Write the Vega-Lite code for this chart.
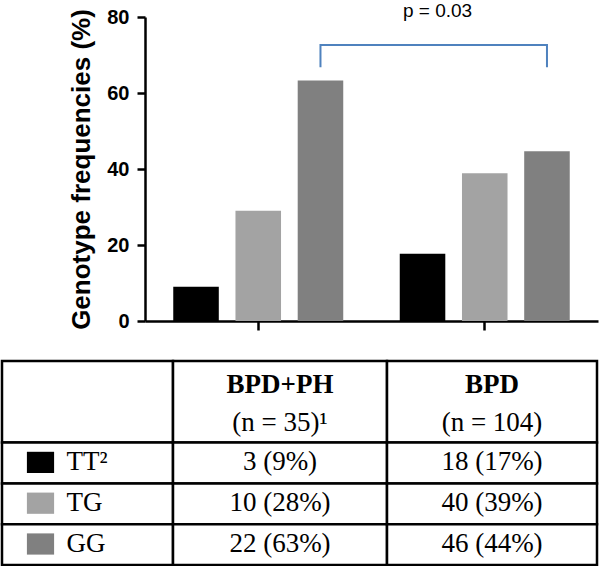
{
  "$schema": "https://vega.github.io/schema/vega-lite/v6.json",
  "padding": {"left": 0, "top": 2, "right": 0, "bottom": 0},
  "config": {"view": {"stroke": null}, "font": "Liberation Sans"},
  "align": "none",
  "spacing": 27,
  "vconcat": [
    {
      "spacing": 0,
      "hconcat": [
        {"width": 66, "height": 304, "data": {"values": []}, "mark": "point"},
        {
          "width": 453,
          "height": 304,
          "layer": [
            {
              "data": {"values": [
                {"group": "BPD+PH", "genotype": "TT", "pct": 9},
                {"group": "BPD+PH", "genotype": "TG", "pct": 29},
                {"group": "BPD+PH", "genotype": "GG", "pct": 63.3},
                {"group": "BPD", "genotype": "TT", "pct": 17.7},
                {"group": "BPD", "genotype": "TG", "pct": 38.9},
                {"group": "BPD", "genotype": "GG", "pct": 44.7}
              ]},
              "mark": {"type": "bar"},
              "encoding": {
                "x": {"field": "group", "type": "nominal",
                  "scale": {"domain": ["BPD+PH", "BPD"], "paddingInner": 0.2, "paddingOuter": 0.1},
                  "axis": {"title": null, "labels": false, "tickSize": 9, "tickWidth": 2.5, "tickColor": "black", "domainColor": "black", "domainWidth": 2.5}},
                "xOffset": {"field": "genotype", "type": "nominal",
                  "scale": {"domain": ["TT", "TG", "GG"], "paddingInner": 0.268, "paddingOuter": 0.09}},
                "y": {"field": "pct", "type": "quantitative",
                  "scale": {"domain": [0, 80], "nice": false},
                  "axis": {"values": [0, 20, 40, 60, 80], "grid": false, "title": "Genotype frequencies (%)",
                    "domainColor": "black", "domainWidth": 2.5, "tickColor": "black", "tickWidth": 2.5, "tickSize": 8,
                    "labelFont": "Liberation Sans", "labelFontSize": 20, "labelFontWeight": "bold", "labelColor": "black", "labelPadding": 8, "labelFlush": false,
                    "titleFont": "Liberation Sans", "titleFontSize": 26, "titleFontWeight": "bold", "titleColor": "black", "titlePadding": 12}},
                "color": {"field": "genotype", "type": "nominal",
                  "scale": {"domain": ["TT", "TG", "GG"], "range": ["#000000", "#a3a3a3", "#808080"]}, "legend": null}
              }
            },
            {
              "data": {"values": [
                {"group": "BPD+PH", "genotype": "GG", "y": 66.8, "order": 1},
                {"group": "BPD+PH", "genotype": "GG", "y": 72.6, "order": 2},
                {"group": "BPD", "genotype": "GG", "y": 72.6, "order": 3},
                {"group": "BPD", "genotype": "GG", "y": 66.8, "order": 4}
              ]},
              "mark": {"type": "line", "color": "#4f82be", "strokeWidth": 2},
              "encoding": {
                "x": {"field": "group", "type": "nominal"},
                "xOffset": {"field": "genotype", "type": "nominal"},
                "y": {"field": "y", "type": "quantitative"},
                "order": {"field": "order", "type": "quantitative"}
              }
            },
            {
              "data": {"values": [{"group": "BPD", "genotype": "TT", "y": 81.5, "label": "p = 0.03"}]},
              "mark": {"type": "text", "font": "Liberation Sans", "fontSize": 19, "color": "black", "dx": 15, "baseline": "middle"},
              "encoding": {
                "x": {"field": "group", "type": "nominal"},
                "xOffset": {"field": "genotype", "type": "nominal"},
                "y": {"field": "y", "type": "quantitative"},
                "text": {"field": "label"}
              }
            }
          ]
        }
      ]
    },
    {
      "spacing": 0,
      "bounds": "flush",
      "hconcat": [
        {
          "width": 171,
          "height": 204,
          "data": {"values": [
            {"row": "head", "rowStart": 0, "rowEnd": 2, "label": "", "genotype": "none"},
            {"row": "TT", "rowStart": 2, "rowEnd": 3, "label": "TT²", "genotype": "TT"},
            {"row": "TG", "rowStart": 3, "rowEnd": 4, "label": "TG", "genotype": "TG"},
            {"row": "GG", "rowStart": 4, "rowEnd": 5, "label": "GG", "genotype": "GG"}
          ]},
          "layer": [
            {
              "mark": {"type": "rect", "fill": "white", "stroke": "black", "strokeWidth": 2.5},
              "encoding": {
                "y": {"field": "rowStart", "type": "quantitative", "scale": {"domain": [0, 5], "reverse": true, "nice": false, "zero": false}, "axis": null},
                "y2": {"field": "rowEnd"}
              }
            },
            {
              "transform": [{"filter": "datum.row != 'head'"}],
              "mark": {"type": "point", "filled": true, "opacity": 1, "shape": "M-1,-0.78H1V0.78H-1Z", "size": 740, "xOffset": -47, "yOffset": -21},
              "encoding": {
                "y": {"field": "rowEnd", "type": "quantitative"},
                "color": {"field": "genotype", "type": "nominal", "legend": null}
              }
            },
            {
              "transform": [{"filter": "datum.row != 'head'"}],
              "mark": {"type": "text", "font": "Liberation Serif", "fontSize": 27, "color": "black", "align": "left", "baseline": "alphabetic", "dx": -21, "dy": -13},
              "encoding": {
                "y": {"field": "rowEnd", "type": "quantitative"},
                "text": {"field": "label"}
              }
            }
          ]
        },
        {
          "width": 214,
          "height": 204,
          "data": {"values": [
            {"row": "head", "rowStart": 0, "rowEnd": 2, "title": "BPD+PH", "sub": "(n = 35)¹", "cell": ""},
            {"row": "TT", "rowStart": 2, "rowEnd": 3, "cell": "3 (9%)"},
            {"row": "TG", "rowStart": 3, "rowEnd": 4, "cell": "10 (28%)"},
            {"row": "GG", "rowStart": 4, "rowEnd": 5, "cell": "22 (63%)"}
          ]},
          "layer": [
            {
              "mark": {"type": "rect", "fill": "white", "stroke": "black", "strokeWidth": 2.5},
              "encoding": {
                "y": {"field": "rowStart", "type": "quantitative", "scale": {"domain": [0, 5], "reverse": true, "nice": false, "zero": false}, "axis": null},
                "y2": {"field": "rowEnd"}
              }
            },
            {
              "transform": [{"filter": "datum.row != 'head'"}],
              "mark": {"type": "text", "font": "Liberation Serif", "fontSize": 27, "color": "black", "align": "center", "baseline": "alphabetic", "dy": -13},
              "encoding": {"y": {"field": "rowEnd", "type": "quantitative"}, "text": {"field": "cell"}}
            },
            {
              "transform": [{"filter": "datum.row == 'head'"}],
              "mark": {"type": "text", "font": "Liberation Serif", "fontSize": 27, "fontWeight": "bold", "color": "black", "align": "center", "baseline": "alphabetic", "dy": -50},
              "encoding": {"y": {"field": "rowEnd", "type": "quantitative"}, "text": {"field": "title"}}
            },
            {
              "transform": [{"filter": "datum.row == 'head'"}],
              "mark": {"type": "text", "font": "Liberation Serif", "fontSize": 27, "color": "black", "align": "center", "baseline": "alphabetic", "dy": -11.5},
              "encoding": {"y": {"field": "rowEnd", "type": "quantitative"}, "text": {"field": "sub"}}
            }
          ]
        },
        {
          "width": 210,
          "height": 204,
          "data": {"values": [
            {"row": "head", "rowStart": 0, "rowEnd": 2, "title": "BPD", "sub": "(n = 104)", "cell": ""},
            {"row": "TT", "rowStart": 2, "rowEnd": 3, "cell": "18 (17%)"},
            {"row": "TG", "rowStart": 3, "rowEnd": 4, "cell": "40 (39%)"},
            {"row": "GG", "rowStart": 4, "rowEnd": 5, "cell": "46 (44%)"}
          ]},
          "layer": [
            {
              "mark": {"type": "rect", "fill": "white", "stroke": "black", "strokeWidth": 2.5},
              "encoding": {
                "y": {"field": "rowStart", "type": "quantitative", "scale": {"domain": [0, 5], "reverse": true, "nice": false, "zero": false}, "axis": null},
                "y2": {"field": "rowEnd"}
              }
            },
            {
              "transform": [{"filter": "datum.row != 'head'"}],
              "mark": {"type": "text", "font": "Liberation Serif", "fontSize": 27, "color": "black", "align": "center", "baseline": "alphabetic", "dy": -13},
              "encoding": {"y": {"field": "rowEnd", "type": "quantitative"}, "text": {"field": "cell"}}
            },
            {
              "transform": [{"filter": "datum.row == 'head'"}],
              "mark": {"type": "text", "font": "Liberation Serif", "fontSize": 27, "fontWeight": "bold", "color": "black", "align": "center", "baseline": "alphabetic", "dy": -50},
              "encoding": {"y": {"field": "rowEnd", "type": "quantitative"}, "text": {"field": "title"}}
            },
            {
              "transform": [{"filter": "datum.row == 'head'"}],
              "mark": {"type": "text", "font": "Liberation Serif", "fontSize": 27, "color": "black", "align": "center", "baseline": "alphabetic", "dy": -11.5},
              "encoding": {"y": {"field": "rowEnd", "type": "quantitative"}, "text": {"field": "sub"}}
            }
          ]
        }
      ]
    }
  ]
}
